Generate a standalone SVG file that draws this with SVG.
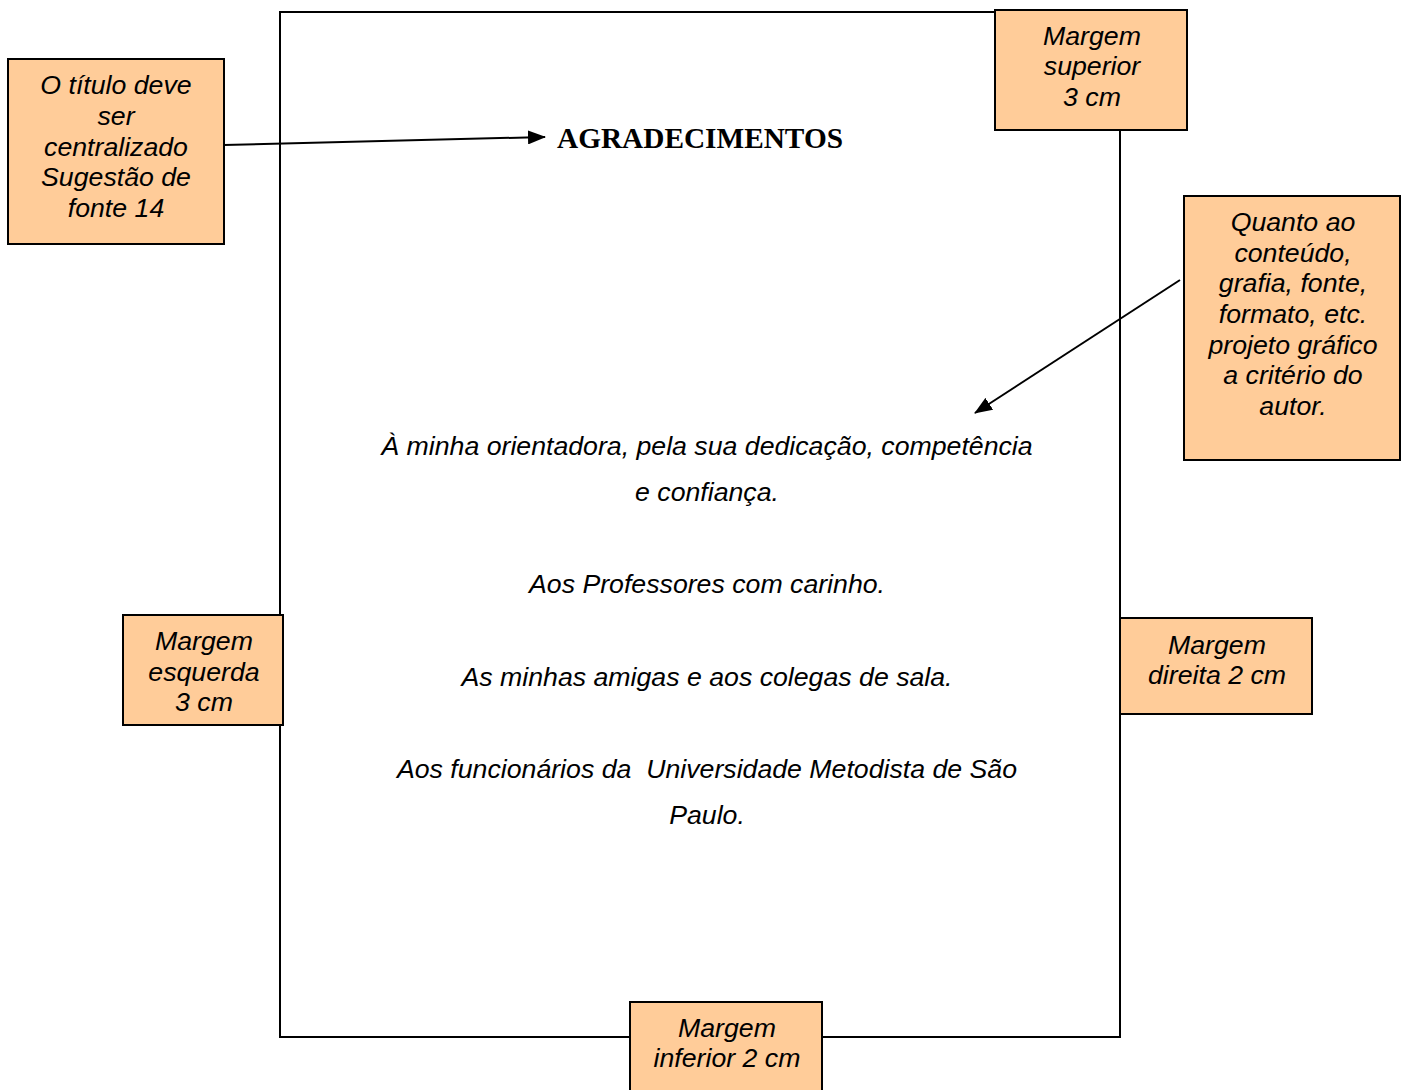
<svg xmlns="http://www.w3.org/2000/svg" width="1405" height="1090" viewBox="0 0 1405 1090">
<style>
.box{fill:#FFCC99;stroke:#000;stroke-width:2}
.page{fill:#fff;stroke:#000;stroke-width:2}
.t{font-family:"Liberation Sans",Arial,sans-serif;font-style:italic;font-size:26.7px;fill:#000;text-anchor:middle}
.h{font-family:"Liberation Serif","Times New Roman",serif;font-weight:bold;font-size:29.3px;fill:#000}
.c{stroke:#000;stroke-width:2;fill:none}
</style>
<defs>
<marker id="ah2" markerWidth="18" markerHeight="14" refX="17" refY="7" orient="auto" markerUnits="userSpaceOnUse" viewBox="0 0 18 14">
<path d="M0,0 L18,7 L0,14 z" fill="#000"/>
</marker>
</defs>
<g id="page">
<rect class="page" x="280" y="12" width="840" height="1025"/>
<text class="h" x="557" y="148">AGRADECIMENTOS</text>
<text class="t" x="707" y="455">À minha orientadora, pela sua dedicação, competência</text>
<text class="t" x="707" y="501">e confiança.</text>
<text class="t" x="707" y="593">Aos Professores com carinho.</text>
<text class="t" x="707" y="686">As minhas amigas e aos colegas de sala.</text>
<text class="t" x="707" y="778" xml:space="preserve">Aos funcionários da  Universidade Metodista de São</text>
<text class="t" x="707" y="824">Paulo.</text>
</g>
<g id="connectors">
<line class="c" x1="224" y1="145" x2="545" y2="137" marker-end="url(#ah2)"/>
<line class="c" x1="1180" y1="280" x2="975" y2="413" marker-end="url(#ah2)"/>
</g>
<g id="titulo">
<rect class="box" x="8" y="59" width="216" height="185"/>
<text class="t" x="116" y="94">O título deve</text>
<text class="t" x="116" y="125">ser</text>
<text class="t" x="116" y="156">centralizado</text>
<text class="t" x="116" y="186">Sugestão de</text>
<text class="t" x="116" y="217">fonte 14</text>
</g>
<g id="superior">
<rect class="box" x="995" y="10" width="192" height="120"/>
<text class="t" x="1092" y="45">Margem</text>
<text class="t" x="1092" y="75">superior</text>
<text class="t" x="1092" y="106">3 cm</text>
</g>
<g id="quanto">
<rect class="box" x="1184" y="196" width="216" height="264"/>
<text class="t" x="1293" y="231">Quanto ao</text>
<text class="t" x="1293" y="262">conteúdo,</text>
<text class="t" x="1293" y="292">grafia, fonte,</text>
<text class="t" x="1293" y="323">formato, etc.</text>
<text class="t" x="1293" y="354">projeto gráfico</text>
<text class="t" x="1293" y="384">a critério do</text>
<text class="t" x="1293" y="415">autor.</text>
</g>
<g id="esquerda">
<rect class="box" x="123" y="615" width="160" height="110"/>
<text class="t" x="204" y="650">Margem</text>
<text class="t" x="204" y="681">esquerda</text>
<text class="t" x="204" y="711">3 cm</text>
</g>
<g id="direita">
<rect class="box" x="1120" y="618" width="192" height="96"/>
<text class="t" x="1217" y="654">Margem</text>
<text class="t" x="1217" y="684">direita 2 cm</text>
</g>
<g id="inferior">
<rect class="box" x="630" y="1002" width="192" height="100"/>
<text class="t" x="727" y="1037">Margem</text>
<text class="t" x="727" y="1067">inferior 2 cm</text>
</g>
</svg>
